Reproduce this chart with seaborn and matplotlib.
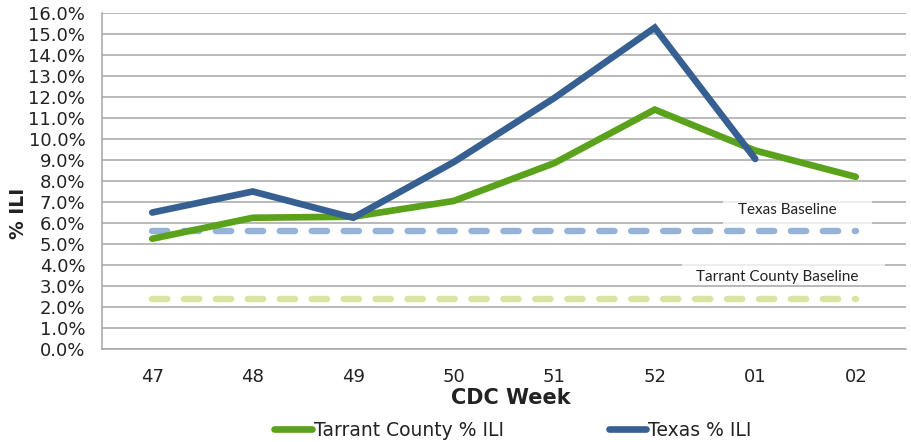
import matplotlib
matplotlib.use("Agg")
import matplotlib.pyplot as plt
import seaborn as sns
import pandas as pd
from matplotlib.ticker import FixedLocator, FuncFormatter
from matplotlib.patches import Rectangle

weeks = ["47", "48", "49", "50", "51", "52", "01", "02"]
tarrant_ili = [5.25, 6.25, 6.3, 7.05, 8.85, 11.4, 9.45, 8.2]
texas_ili = [6.5, 7.5, 6.25, 8.9, 11.95, 15.3, 9.05, None]
texas_baseline = [5.6, 5.6, 5.6, 5.6, 5.6, 5.6, 5.6, 5.6]
tarrant_baseline = [2.4, 2.4, 2.4, 2.4, 2.4, 2.4, 2.4, 2.4]

sns.set_theme(style="white")
plt.rcParams["font.family"] = ["DejaVu Sans"]
plt.rcParams["lines.scale_dashes"] = False

pos = list(range(len(weeks)))
df = pd.DataFrame({"pos": pos, "week": weeks, "tarrant": tarrant_ili,
                   "texas": texas_ili, "tx_base": texas_baseline,
                   "tc_base": tarrant_baseline})

fig = plt.figure(figsize=(9.11, 4.42), dpi=100)
ax = fig.add_axes([102 / 911, 1 - 349 / 442, (906 - 102) / 911, (349 - 13) / 442])

grid_c = "#A6A6A6"
ax.set_axisbelow(True)
ax.yaxis.grid(True, color=grid_c, linewidth=1.1)
ax.xaxis.grid(False)

# baselines
sns.lineplot(data=df, x="pos", y="tx_base", ax=ax, color="#95B3D7",
             linewidth=4.6, legend=False)
sns.lineplot(data=df, x="pos", y="tc_base", ax=ax, color="#D7E4A2",
             linewidth=4.6, legend=False)
for ln in ax.lines:
    ln.set_dashes((11, 12))
    ln.set_dash_capstyle("round")

sns.lineplot(data=df, x="pos", y="tarrant", ax=ax, color="#5AA21B",
             linewidth=4.8, label="Tarrant County % ILI", legend=False)
sns.lineplot(data=df.dropna(subset=["texas"]), x="pos", y="texas", ax=ax,
             color="#376092", linewidth=4.8, label="Texas % ILI", legend=False)
for ln in ax.lines[2:]:
    ln.set_solid_capstyle("round")
    ln.set_solid_joinstyle("miter")

ax.set_xlim(-0.5, len(weeks) - 0.5)
ax.set_ylim(0, 16)
ax.set_yticks([i for i in range(0, 17)])
ax.yaxis.set_major_formatter(FuncFormatter(lambda v, p: f"{v:.1f}%"))
ax.set_xticks(pos)
ax.set_xticklabels(weeks)
ax.xaxis.set_minor_locator(FixedLocator([p - 0.5 for p in pos] + [len(weeks) - 0.5]))
ax.tick_params(axis="x", which="major", length=0, pad=14, labelsize=13, labelcolor="#222222")
ax.tick_params(axis="x", which="minor", length=6, width=1.1, color=grid_c, direction="out")
ax.tick_params(axis="y", which="major", length=5, width=1.1, color=grid_c, labelsize=13,
               labelcolor="#222222", pad=7, direction="out")

for s in ["top", "right"]:
    ax.spines[s].set_visible(False)
for s in ["left", "bottom"]:
    ax.spines[s].set_color(grid_c)
    ax.spines[s].set_linewidth(1.1)

ax.set_xlabel("")
ax.set_ylabel("")
fig.text(18 / 911, 1 - 213 / 442, "% ILI", rotation=90, ha="center", va="center",
         fontsize=13.5, fontweight="bold", color="#222222")
fig.text(511 / 911, 1 - 398 / 442, "CDC Week", ha="center", va="center",
         fontsize=15, fontweight="bold", color="#222222")

# baseline labels with translucent white boxes
ax.add_patch(Rectangle((5.68, 5.97), 1.48, 1.06, fc="white", ec="none", alpha=0.75, zorder=1.5))
ax.add_patch(Rectangle((5.27, 3.1), 2.02, 0.93, fc="white", ec="none", alpha=0.75, zorder=1.5))
ax.text(6.32, 6.6, "Texas Baseline", ha="center", va="center", fontsize=11,
        family=["Lato", "DejaVu Sans"], color="#222222", zorder=3)
ax.text(6.22, 3.42, "Tarrant County Baseline", ha="center", va="center", fontsize=11,
        family=["Lato", "DejaVu Sans"], color="#222222", zorder=3)

handles = ax.lines[2:]
leg = fig.legend(handles, ["Tarrant County % ILI", "Texas % ILI"], loc="center",
                 bbox_to_anchor=(513 / 911, 1 - 430 / 442), ncol=2, frameon=False,
                 fontsize=13.5, handlelength=2.0, handletextpad=0.1, columnspacing=5.6,
                 borderpad=0)
for t in leg.get_texts():
    t.set_color("#222222")

fig.savefig("out.png", dpi=100)
